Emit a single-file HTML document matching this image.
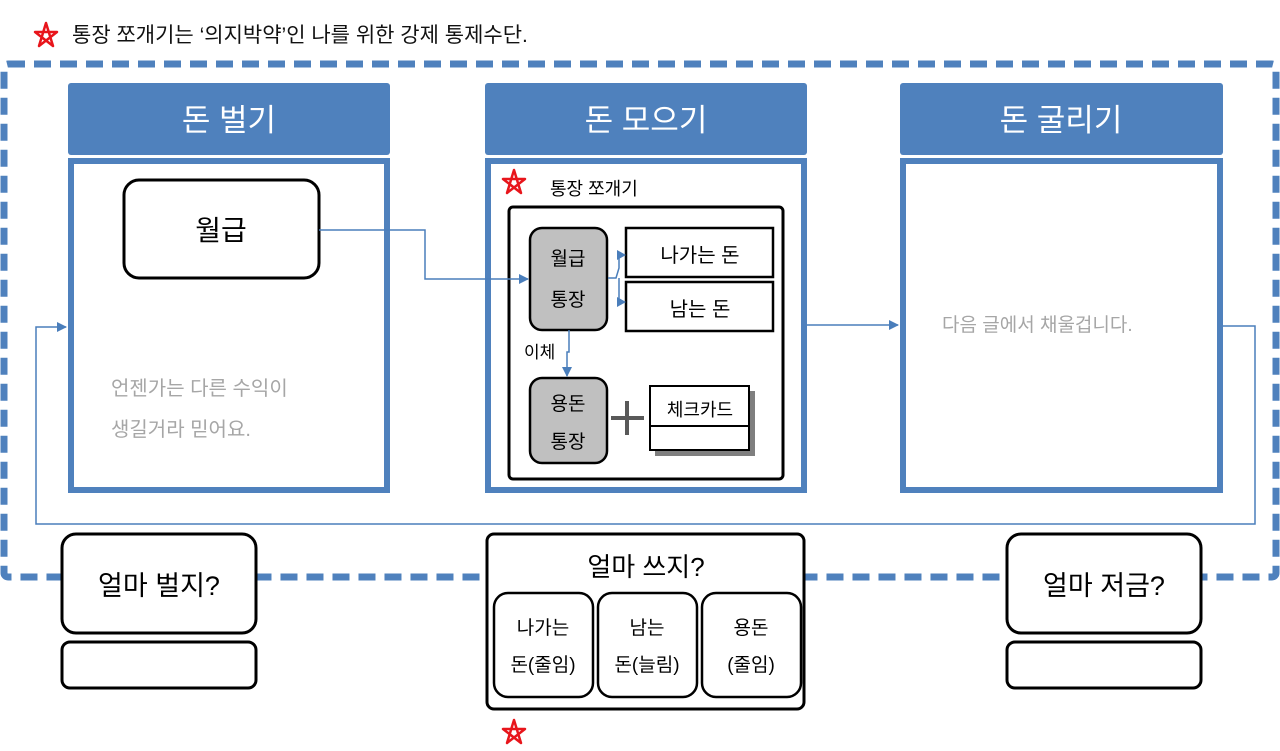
<!DOCTYPE html>
<html><head><meta charset="utf-8"><style>
html,body{margin:0;padding:0;background:#fff;width:1280px;height:751px;overflow:hidden}
svg text{font-family:"Liberation Sans","Noto Sans CJK KR","NanumGothic",sans-serif}
</style></head><body>
<svg width="1280" height="751" viewBox="0 0 1280 751" xmlns="http://www.w3.org/2000/svg">
<defs>
<marker id="ar" markerWidth="10" markerHeight="10" refX="9" refY="5" orient="auto" markerUnits="userSpaceOnUse"><path d="M0,0 L10,5 L0,10 z" fill="#4a7ebb"/></marker>
<g id="star"><path d="M0,-13 L7,10 L-11,-4 L11,-4 L-7,10 Z" fill="none" stroke="#e8151b" stroke-width="2.5" stroke-linejoin="round"/></g>
</defs>
<use href="#star" x="46" y="36"/>
<text x="72" y="42" font-size="21" fill="#111">통장 쪼개기는 ‘의지박약’인 나를 위한 강제 통제수단.</text>
<rect x="4" y="64" width="1272" height="513" rx="4" fill="none" stroke="#4f81bd" stroke-width="7" stroke-dasharray="17,9"/>
<rect x="68" y="83" width="322" height="72" rx="3" fill="#4f81bd"/>
<rect x="485" y="83" width="322" height="72" rx="3" fill="#4f81bd"/>
<rect x="900" y="83" width="323" height="72" rx="3" fill="#4f81bd"/>
<text x="229" y="131" font-size="31" fill="#fff" text-anchor="middle">돈 벌기</text>
<text x="646" y="131" font-size="31" fill="#fff" text-anchor="middle">돈 모으기</text>
<text x="1061" y="131" font-size="31" fill="#fff" text-anchor="middle">돈 굴리기</text>
<rect x="71" y="161" width="316" height="329" fill="#fff" stroke="#4f81bd" stroke-width="6"/>
<rect x="488" y="161" width="316" height="329" fill="#fff" stroke="#4f81bd" stroke-width="6"/>
<rect x="903" y="161" width="317" height="329" fill="#fff" stroke="#4f81bd" stroke-width="6"/>
<polyline points="1223,326 1255,326 1255,524 36,524 36,327 66,327" fill="none" stroke="#4a7ebb" stroke-width="1.5" marker-end="url(#ar)"/>
<line x1="807" y1="325" x2="898" y2="325" stroke="#4a7ebb" stroke-width="1.5" marker-end="url(#ar)"/>
<rect x="124" y="180" width="195" height="98" rx="15" fill="#fff" stroke="#000" stroke-width="3"/>
<text x="221" y="240" font-size="28" text-anchor="middle">월급</text>
<text x="111" y="395" font-size="20" fill="#a6a6a6">언젠가는 다른 수익이</text>
<text x="111" y="436" font-size="20" fill="#a6a6a6">생길거라 믿어요.</text>
<use href="#star" x="514" y="183"/>
<text x="550" y="195" font-size="18">통장 쪼개기</text>
<rect x="509" y="207" width="274" height="272" rx="4" fill="#fff" stroke="#000" stroke-width="3"/>
<rect x="530" y="228" width="77" height="102" rx="12" fill="#c0c0c0" stroke="#000" stroke-width="2.5"/>
<text x="568" y="265" font-size="19" text-anchor="middle">월급</text>
<text x="568" y="306" font-size="19" text-anchor="middle">통장</text>
<polyline points="319,230 425,230 425,279 528,279" fill="none" stroke="#4a7ebb" stroke-width="1.5" marker-end="url(#ar)"/>
<rect x="626" y="228" width="147" height="49" fill="#fff" stroke="#000" stroke-width="2.5"/>
<rect x="626" y="282" width="147" height="49" fill="#fff" stroke="#000" stroke-width="2.5"/>
<text x="700" y="262" font-size="20" text-anchor="middle">나가는 돈</text>
<text x="700" y="316" font-size="20" text-anchor="middle">남는 돈</text>
<path d="M608,278 L616,278 L619,268 L619,255 L624,255 M619,278 L619,302 L624,302" fill="none" stroke="#4a7ebb" stroke-width="1.5"/>
<path d="M617,250 L626,255 L617,260 z M617,297 L626,302 L617,307 z" fill="#4a7ebb"/>
<polyline points="569,330 569,352 567,352 567,376" fill="none" stroke="#4a7ebb" stroke-width="1.5" marker-end="url(#ar)"/>
<text x="524" y="358" font-size="17">이체</text>
<rect x="530" y="378" width="77" height="85" rx="12" fill="#c0c0c0" stroke="#000" stroke-width="2.5"/>
<text x="568" y="410" font-size="19" text-anchor="middle">용돈</text>
<text x="568" y="448" font-size="19" text-anchor="middle">통장</text>
<path d="M611,418 L644,418 M627,401 L627,435" stroke="#595959" stroke-width="4"/>
<rect x="655" y="391" width="100" height="65" fill="#7f7f7f"/>
<rect x="650" y="386" width="99" height="64" fill="#fff" stroke="#000" stroke-width="2"/>
<line x1="650" y1="426" x2="749" y2="426" stroke="#000" stroke-width="2"/>
<text x="700" y="416" font-size="18" text-anchor="middle">체크카드</text>
<text x="942" y="331" font-size="19" fill="#a6a6a6">다음 글에서 채울겁니다.</text>
<rect x="62" y="534" width="194" height="99" rx="14" fill="#fff" stroke="#000" stroke-width="3"/>
<text x="159" y="595" font-size="27" text-anchor="middle">얼마 벌지?</text>
<rect x="62" y="642" width="194" height="46" rx="8" fill="#fff" stroke="#000" stroke-width="3"/>
<rect x="1007" y="534" width="194" height="99" rx="14" fill="#fff" stroke="#000" stroke-width="3"/>
<text x="1104" y="595" font-size="27" text-anchor="middle">얼마 저금?</text>
<rect x="1007" y="642" width="194" height="46" rx="8" fill="#fff" stroke="#000" stroke-width="3"/>
<rect x="487" y="534" width="317" height="175" rx="7" fill="#fff" stroke="#000" stroke-width="3"/>
<text x="646" y="576" font-size="26" text-anchor="middle">얼마 쓰지?</text>
<rect x="494" y="593" width="99" height="104" rx="14" fill="#fff" stroke="#000" stroke-width="2.5"/>
<rect x="598" y="593" width="99" height="104" rx="14" fill="#fff" stroke="#000" stroke-width="2.5"/>
<rect x="702" y="593" width="99" height="104" rx="14" fill="#fff" stroke="#000" stroke-width="2.5"/>
<text x="543" y="634" font-size="19" text-anchor="middle">나가는</text>
<text x="543" y="671" font-size="19" text-anchor="middle">돈(줄임)</text>
<text x="647" y="634" font-size="19" text-anchor="middle">남는</text>
<text x="647" y="671" font-size="19" text-anchor="middle">돈(늘림)</text>
<text x="751" y="634" font-size="19" text-anchor="middle">용돈</text>
<text x="751" y="671" font-size="19" text-anchor="middle">(줄임)</text>
<use href="#star" x="514" y="733"/>
</svg>
</body></html>
